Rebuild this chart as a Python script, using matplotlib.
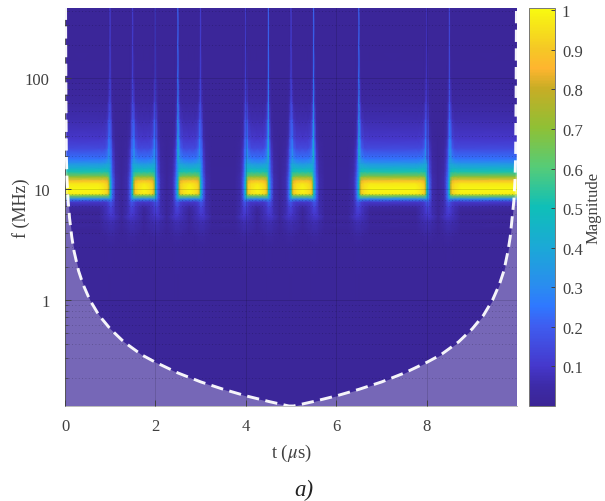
import numpy as np
import matplotlib
matplotlib.use("Agg")
import matplotlib.pyplot as plt
from matplotlib.colors import LinearSegmentedColormap

plt.rcParams["font.family"] = ["Liberation Serif", "DejaVu Serif"]
plt.rcParams["mathtext.fontset"] = "stix"

# burst edges in t (us) and how bright the thin spike above each one is
edge_times = [1.0, 1.5, 2.0, 2.5, 3.0, 4.0, 4.5, 5.0, 5.5, 6.5, 8.0, 8.5]
edge_inside = [-1, 1, -1, 1, -1, 1, -1, 1, -1, 1, -1, 1]  # +1 burst starts, -1 burst ends
edge_spike = [0.7, 0.7, 0.7, 1.3, 0.7, 0.7, 1.3, 0.7, 1.3, 1.3, 0.5, 0.9]

# magnitude: one row per frequency, one column per offset from an edge
edge_offsets = [-0.25, -0.12, -0.06, -0.025, 0.0, 0.025, 0.06, 0.12, 0.25]
freq_rows = [430, 200, 100, 60, 42, 28, 23, 18.6, 16.8, 15.1, 14.2, 12.8, 11.8, 11.1, 10, 9, 8.65,
             8.1, 7.6, 6.8, 6.05, 5.6, 5.15, 4.7, 4.2, 3.7, 3, 1, 0.1]
mag_table = [
    [.008, .008, .008, .010, .17, .010, .008, .008, .008],
    [.008, .008, .008, .015, .17, .015, .008, .008, .008],
    [.008, .008, .010, .04, .19, .04, .015, .012, .012],
    [.008, .010, .02, .07, .22, .10, .035, .03, .03],
    [.010, .012, .03, .12, .25, .17, .08, .06, .06],
    [.010, .02, .06, .18, .30, .25, .14, .11, .10],
    [.010, .03, .09, .22, .33, .30, .20, .15, .15],
    [.010, .04, .11, .24, .36, .34, .28, .25, .24],
    [.010, .05, .13, .26, .36, .38, .37, .35, .34],
    [.012, .05, .14, .27, .37, .44, .46, .46, .45],
    [.012, .05, .15, .28, .38, .47, .51, .52, .52],
    [.012, .06, .18, .30, .42, .60, .68, .70, .70],
    [.012, .06, .20, .33, .47, .72, .84, .88, .89],
    [.012, .06, .20, .35, .50, .77, .91, .94, .97],
    [.012, .06, .20, .35, .50, .78, .93, .96, 1.0],
    [.012, .06, .20, .35, .50, .77, .91, .95, .98],
    [.012, .06, .20, .34, .45, .60, .66, .66, .66],
    [.012, .06, .18, .28, .32, .33, .32, .30, .30],
    [.012, .06, .14, .18, .18, .15, .12, .10, .10],
    [.012, .06, .11, .13, .13, .11, .09, .07, .03],
    [.004, .06, .10, .11, .11, .10, .08, .06, .003],
    [.025, .08, .10, .10, .10, .09, .08, .07, .025],
    [.004, .05, .07, .07, .07, .07, .06, .05, .004],
    [.020, .05, .06, .06, .06, .06, .05, .05, .020],
    [.004, .03, .05, .05, .05, .05, .04, .03, .004],
    [.012, .02, .03, .03, .03, .03, .02, .015, .012],
    [.010, .010, .012, .012, .012, .012, .012, .010, .010],
    [.010, .010, .010, .010, .010, .010, .010, .010, .010],
    [.010, .010, .010, .010, .010, .010, .010, .010, .010],
]

# cone of influence, left and right branches
coi_t = [0.012, 0.02, 0.03, 0.045, 0.07, 0.1, 0.15, 0.2, 0.3, 0.4, 0.55, 0.75, 1.0, 1.3, 1.7, 2.0,
         2.5, 3.0, 3.5, 4.0, 4.5, 4.95, 5.05, 5.5, 6.0, 6.5, 7.0, 7.5, 8.0, 8.3, 8.7, 9.0, 9.25,
         9.45, 9.6, 9.7, 9.79, 9.84, 9.92, 9.945, 9.96, 9.97, 9.978]
coi_f = [430, 70, 20, 12, 7.8, 5.5, 3.7, 2.75, 1.83, 1.38, 1.0, 0.73, 0.55, 0.42, 0.32, 0.275,
         0.22, 0.183, 0.157, 0.137, 0.122, 0.111, 0.111, 0.122, 0.137, 0.157, 0.183, 0.22, 0.275,
         0.32, 0.42, 0.55, 0.73, 1.0, 1.38, 1.83, 2.75, 3.7, 7.8, 12, 20, 70, 430]

t_ticks = [0, 2, 4, 6, 8]
f_ticks = [1, 10, 100]
cbar_ticks = [0.1, 0.2, 0.3, 0.4, 0.5, 0.6, 0.7, 0.8, 0.9, 1]
cbar_labels = ["0.1", "0.2", "0.3", "0.4", "0.5", "0.6", "0.7", "0.8", "0.9", "1"]

cmap_pos = [0, 0.05, 0.1, 0.2, 0.25, 0.3, 0.4, 0.5, 0.6, 0.7, 0.8, 0.85, 0.9, 1]
cmap_col = ["#3b2596", "#3d2ba8", "#4538cc", "#3f5df0", "#2f78ff", "#2a8cf0", "#1ba9d6", "#0fbfb8",
            "#55cc78", "#8fc035", "#c8ad25", "#ffb52f", "#f5c825", "#f8fa10"]


def main():
    parula = LinearSegmentedColormap.from_list("parula_like", list(zip(cmap_pos, cmap_col)))

    table = np.array(mag_table)
    freqs = np.array(freq_rows, dtype=float)
    nodes = {0.0, 9.99}
    for e in edge_times:
        for off in edge_offsets:
            nodes.add(round(e + off, 4))
    times = np.array(sorted(nodes))

    # each time node takes the table column of its nearest burst edge
    offs = np.array(edge_offsets)
    mag = np.zeros((len(freqs), len(times)))
    for j, t in enumerate(times):
        k = int(np.argmin([abs(t - e) for e in edge_times]))
        d = (t - edge_times[k]) * edge_inside[k]
        col = int(np.argmin(np.abs(offs - np.clip(d, -0.25, 0.25))))
        mag[:, j] = table[:, col]
        if col == 4:
            mag[:8, j] = table[:8, col] * edge_spike[k]

    fig = plt.figure(figsize=(6.05, 5.02), dpi=100)
    ax = fig.add_axes([65 / 605, 1 - 407 / 502, 452 / 605, 398 / 502])
    mesh = ax.pcolormesh(times, freqs, mag, cmap=parula, vmin=0, vmax=1.006, shading="gouraud")
    ax.fill_between(coi_t, 0.1, coi_f, color="white", alpha=0.3, lw=0, zorder=2)
    ax.plot(coi_t, coi_f, color="white", lw=2.1, ls=(0, (4.2, 2.2)), alpha=0.95, zorder=3)

    ax.set_yscale("log")
    ax.set_xlim(0, 9.99)
    ax.set_ylim(0.111, 427)
    ax.set_xticks(t_ticks)
    ax.set_xticklabels([str(v) for v in t_ticks])
    ax.set_yticks(f_ticks)
    ax.set_yticklabels([str(v) for v in f_ticks])
    ax.grid(True, which="major", color="black", alpha=0.15, lw=0.6)
    ax.grid(True, which="minor", axis="y", color="black", alpha=0.25, lw=0.6, ls=(0, (1, 3)))
    ax.set_axisbelow(False)
    ax.tick_params(which="both", direction="in", top=False, right=False, labelsize=12,
                   colors="#404040", pad=9)
    ax.tick_params(which="major", length=4, width=0.7)
    ax.tick_params(which="minor", length=2, width=0.5)
    ax.tick_params(axis="y", pad=11)
    ax.spines["top"].set_visible(False)
    ax.spines["right"].set_visible(False)
    ax.spines["bottom"].set_color("#bbbbbb")
    ax.spines["bottom"].set_linewidth(0.7)
    ax.spines["left"].set_color("#666666")
    ax.spines["left"].set_linewidth(0.7)
    ax.set_xlabel(r"t ($\mu$s)", fontsize=13.5, color="#404040", labelpad=5)
    ax.set_ylabel("f (MHz)", fontsize=13, color="#404040", labelpad=-4)

    cax = fig.add_axes([529 / 605, 1 - 407 / 502, 26 / 605, 398 / 502])
    cbar = fig.colorbar(mesh, cax=cax)
    cbar.set_ticks(cbar_ticks)
    cbar.set_ticklabels(cbar_labels)
    cbar.ax.tick_params(labelsize=12, colors="#404040", direction="in", length=3, width=0.7, pad=5)
    cbar.outline.set_edgecolor("#777777")
    cbar.outline.set_linewidth(0.7)
    cbar.set_label("Magnitude", fontsize=12, color="#404040", labelpad=2)

    fig.text(304 / 605, 1 - 490 / 502, "a)", fontsize=16.5, style="italic", color="#222222",
             ha="center", va="center")
    fig.savefig("out.png", dpi=100)


if __name__ == "__main__":
    main()
